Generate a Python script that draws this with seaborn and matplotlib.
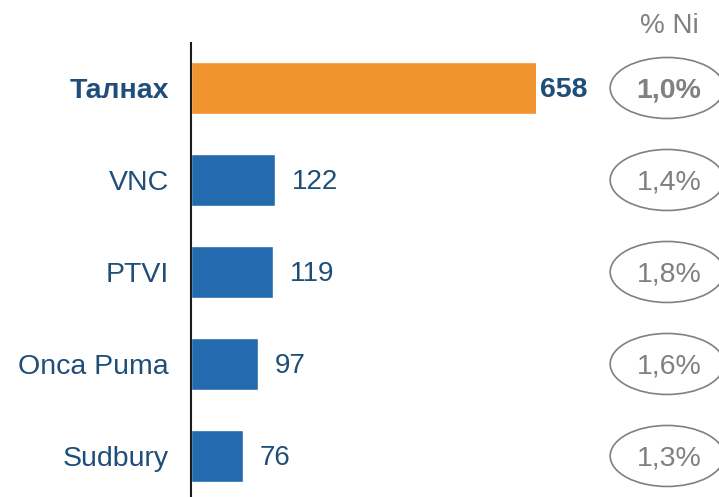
import matplotlib
matplotlib.use("Agg")
import matplotlib.pyplot as plt
from matplotlib.patches import Ellipse
import seaborn as sns

# data
sites = ["Талнах", "VNC", "PTVI", "Onca Puma", "Sudbury"]
reserves = [658, 122, 119, 97, 76]
ni_grade = ["1,0%", "1,4%", "1,8%", "1,6%", "1,3%"]
bar_colors = ["#F09430", "#236AAE", "#236AAE", "#236AAE", "#236AAE"]

label_blue = "#1F4E79"
grey = "#808080"

sns.set_style("white")
plt.rcParams["font.family"] = ["Liberation Sans", "DejaVu Sans"]

fig = plt.figure(figsize=(7.19, 4.97), dpi=100)
ax = fig.add_axes([191 / 719, 0, 345 / 719, 454 / 497])

sns.barplot(x=reserves, y=sites, hue=sites, palette=bar_colors, legend=False,
            orient="h", width=0.573, saturation=1, ax=ax)

# the long bar is cut at the edge of the axis, as in the source
ax.set_xlim(0, 500)
ax.set_ylim(4.446, -0.489)

for s in ["top", "right", "bottom"]:
    ax.spines[s].set_visible(False)
ax.spines["left"].set_color("#1a1a1a")
ax.spines["left"].set_linewidth(1.5)
ax.set_xticks([])
ax.set_xlabel("")
ax.set_ylabel("")
ax.tick_params(axis="y", length=0, pad=16)
for i, lab in enumerate(ax.get_yticklabels()):
    lab.set_fontsize(20.5)
    lab.set_color(label_blue)
    if i == 0:
        lab.set_fontweight("bold")

# value labels (nudged down a little so digits sit on the bar centre)
dy = 0.025
for i, v in enumerate(reserves):
    if i == 0:
        ax.annotate(str(v), (500, i + dy), xytext=(3, 0), textcoords="offset points",
                    va="center", ha="left", fontsize=20.5, fontweight="bold",
                    color=label_blue, annotation_clip=False)
    else:
        ax.annotate(str(v), (v, i + dy), xytext=(12, 0), textcoords="offset points",
                    va="center", ha="left", fontsize=20, color=label_blue)

# grade column with ellipses
cx = 693
for i, g in enumerate(ni_grade):
    ax.add_patch(Ellipse((cx - 3, i), width=165, height=0.663, fill=False,
                         edgecolor=grey, linewidth=1.2, clip_on=False))
    ax.text(cx, i + dy, g, ha="center", va="center", fontsize=20.5, color=grey,
            fontweight="bold" if i == 0 else "normal", clip_on=False)

ax.text(cx, -0.67, "% Ni", ha="center", va="center", fontsize=20, color=grey,
        clip_on=False)

fig.savefig("out.png", dpi=100)
